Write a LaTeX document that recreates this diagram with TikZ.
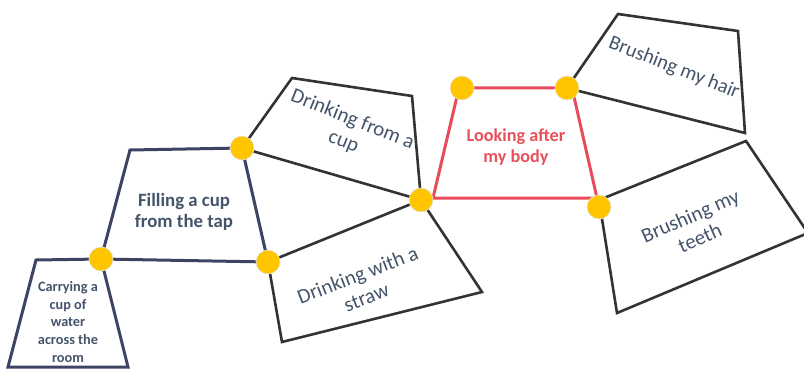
\documentclass[tikz,border=0pt]{standalone}
\usepackage{fontspec}
\setmainfont{Carlito}
\definecolor{navyline}{HTML}{3D4363}
\definecolor{darkline}{HTML}{333333}
\definecolor{redline}{HTML}{E84C5A}
\definecolor{navytext}{HTML}{44546A}
\definecolor{redtext}{HTML}{E8505B}
\definecolor{dotfill}{HTML}{FFC600}
\begin{document}
\begin{tikzpicture}[x=1pt,y=-1pt,
  navyshape/.style={draw=navyline,line width=3pt,line join=miter},
  darkshape/.style={draw=darkline,line width=2.6pt,line join=miter},
  redshape/.style={draw=redline,line width=3pt,line join=miter},
  joint/.style={circle,fill=dotfill,draw=white!80!gray,line width=0.6pt,minimum size=24pt,inner sep=0pt},
  boldlabel/.style={text=navytext,align=center,font=\bfseries},
  plainlabel/.style={text=navytext,align=center,font=\fontsize{20.8}{24}\selectfont}]
\useasboundingbox (0,0) rectangle (804,369);
\clip (0,0) rectangle (804,369);
% corner coordinates
\coordinate (d1) at (101,259);
\coordinate (d2) at (242,148);
\coordinate (d3) at (268,262);
\coordinate (d4) at (421,200);
\coordinate (d5) at (462,88);
\coordinate (d6) at (567,88);
\coordinate (d7) at (599,207);
\coordinate (ca1) at (36,260);
\coordinate (ca2) at (128,367);
\coordinate (ca3) at (8,367);
\coordinate (fi1) at (130,150);
\coordinate (cu1) at (292,78);
\coordinate (cu2) at (412,96);
\coordinate (st1) at (482,292);
\coordinate (st2) at (282,342);
\coordinate (lo1) at (459,88);
\coordinate (lo2) at (572,88);
\coordinate (lo3) at (597,198);
\coordinate (lo4) at (433,198);
\coordinate (ha1) at (618,14);
\coordinate (ha2) at (738,31);
\coordinate (ha3) at (745,133);
\coordinate (te0) at (599,200);
\coordinate (te1) at (746,141);
\coordinate (te2) at (808,233);
\coordinate (te3) at (617,313);
% shapes
\draw[navyshape] (ca1) -- (d1) -- (ca2) -- (ca3) -- cycle;
\draw[navyshape] (fi1) -- (d2) -- (d3) -- (d1) -- cycle;
\draw[darkshape] (d2) -- (cu1) -- (cu2) -- (d4) -- cycle;
\draw[darkshape] (d3) -- (d4) -- (st1) -- (st2) -- cycle;
\draw[redshape] (lo1) -- (lo2) -- (lo3) -- (lo4) -- cycle;
\draw[darkshape] (d6) -- (ha1) -- (ha2) -- (ha3) -- cycle;
\draw[darkshape] (te0) -- (te1) -- (te2) -- (te3) -- cycle;
% joints
\node[joint] (j1) at (d1) {};
\node[joint] (j2) at (d2) {};
\node[joint] (j3) at (d3) {};
\node[joint] (j4) at (d4) {};
\node[joint] (j5) at (d5) {};
\node[joint] (j6) at (d6) {};
\node[joint] (j7) at (d7) {};
% labels
\node[boldlabel,font=\bfseries\fontsize{14.3}{17.8}\selectfont] (carry) at (68,322) {Carrying a\\cup of\\water\\across the\\room};
\node[boldlabel,font=\bfseries\fontsize{18.8}{21}\selectfont] (fill) at (184,212) {Filling a cup\\from the tap};
\node[boldlabel,text=redtext,font=\bfseries\fontsize{18.2}{21.5}\selectfont] (look) at (516,147) {Looking after\\my body};
\node[plainlabel,rotate=-22] (cup) at (348,131) {Drinking from a\\cup};
\node[plainlabel,rotate=21] (straw) at (362,286) {Drinking with a\\straw};
\node[plainlabel,font=\fontsize{20.3}{24}\selectfont,rotate=-21.5] (hair) at (674,68) {Brushing my hair};
\node[plainlabel,rotate=23.5] (teeth) at (695,227) {Brushing my\\teeth};
\end{tikzpicture}
\end{document}
